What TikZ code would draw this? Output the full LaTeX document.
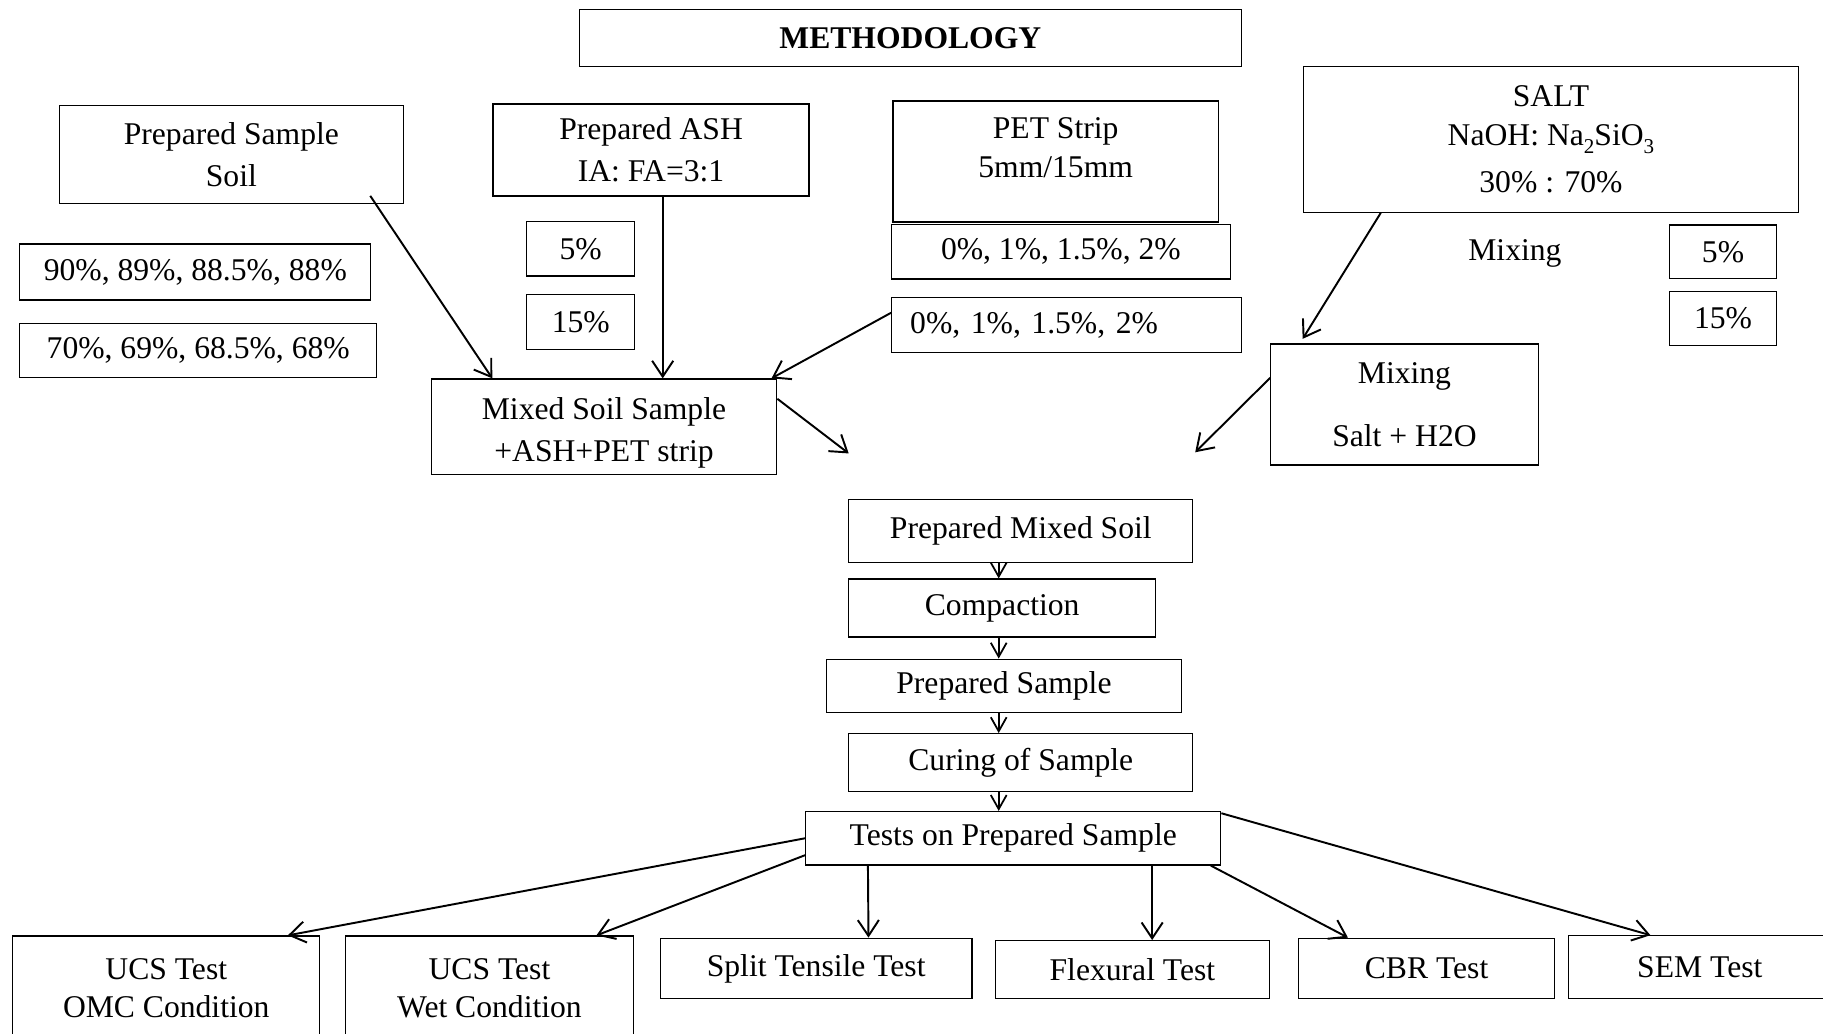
\documentclass[tikz,border=0pt]{standalone}
\usepackage{fontspec}
\setmainfont{Liberation Serif}
\usepackage{tikz}
\usetikzlibrary{arrows.meta, positioning, calc}
\newcommand{\boxfont}{\fontsize{18}{22}\selectfont}
\newcommand{\lowsub}[1]{\raisebox{-4.5pt}{\fontsize{12}{12}\selectfont #1}}
\tikzset{
    box/.style={rectangle, draw, line width=0.7pt, align=center, inner sep=2pt, font=\boxfont},
    plain/.style={align=center, inner sep=2pt, font=\boxfont},
    link/.style={draw, -{Straight Barb[length=9pt,width=12pt]}, line width=1.1pt},
    step link/.style={draw, -{Straight Barb[length=8pt,width=9pt]}, line width=1pt}
}
\begin{document}
\begin{tikzpicture}[x=0.02325cm, y=-0.02325cm]
    \clip (0,0) rectangle (1568,889);
    % Title
    \node [box, minimum width=13.25cm, minimum height=1.14cm, font=\boxfont\bfseries] (method) at (783,32.5) {METHODOLOGY};

    % Inputs
    \node [box, minimum width=6.88cm, minimum height=1.95cm] (soil) at (199,133) {Prepared Sample\\[2pt]Soil};
    \node [box, minimum width=6.32cm, minimum height=1.84cm] (ash) at (560,129) {Prepared ASH\\[2pt]IA: FA=3:1};
    \node [box, minimum width=6.51cm, minimum height=2.42cm] (pet) at (908,139) {PET Strip\\5mm/15mm\\[-6pt]\mbox{}};
    \node [box, minimum width=9.90cm, minimum height=2.91cm] (salt) at (1334,120) {SALT\\NaOH: Na\lowsub{2}SiO\lowsub{3}\\[5pt]30\% : 70\%};

    % Percentages
    \node [box, minimum width=7.02cm, minimum height=1.12cm] (soilA) at (168,234) {90\%, 89\%, 88.5\%, 88\%};
    \node [box, minimum width=7.14cm, minimum height=1.09cm] (soilB) at (170.5,301.5) {70\%, 69\%, 68.5\%, 68\%};
    \node [box, minimum width=2.16cm, minimum height=1.09cm] (ashA) at (499.5,214) {5\%};
    \node [box, minimum width=2.16cm, minimum height=1.09cm] (ashB) at (499.5,277) {15\%};
    \node [box, minimum width=6.77cm, minimum height=1.09cm] (petA) at (912.5,216.5) {0\%, 1\%, 1.5\%, 2\%};
    \node [box, text width=6.26cm, inner xsep=0.37cm, align=left, minimum height=1.09cm] (petB) at (917.5,279.5) {0\%, 1\%, 1.5\%, 2\%};
    \node [plain] (mixlabel) at (1303,218) {Mixing};
    \node [box, minimum width=2.14cm, minimum height=1.07cm] (saltA) at (1482,216.5) {5\%};
    \node [box, minimum width=2.14cm, minimum height=1.07cm] (saltB) at (1482,274) {15\%};

    % Mixing
    \node [box, minimum width=5.35cm, minimum height=2.42cm] (water) at (1208,348) {Mixing\\[14pt]Salt + H2O};
    \node [box, minimum width=6.91cm, minimum height=1.91cm] (mixed) at (519.5,367) {\rule{0pt}{20pt}Mixed Soil Sample\\[2pt]+ASH+PET strip};
    \coordinate (mixend) at (730,390);
    \coordinate (waterend) at (1028,389);

    % Main chain
    \node [box, minimum width=6.88cm, minimum height=1.26cm] (pms) at (878,457) {Prepared Mixed Soil};
    \node [box, minimum width=6.14cm, minimum height=1.16cm] (comp) at (862,523) {Compaction};
    \node [box, minimum width=7.09cm, minimum height=1.07cm] (prep) at (863.5,590) {Prepared Sample};
    \node [box, minimum width=6.88cm, minimum height=1.16cm] (cure) at (878,656) {Curing of Sample};
    \node [box, minimum width=8.30cm, minimum height=1.07cm] (tests) at (871.5,721) {Tests on Prepared Sample};
    \coordinate (col) at (859,0);

    % Tests
    \node [box, minimum width=6.14cm, minimum height=2.09cm] (ucs1) at (143,850) {UCS Test\\OMC Condition};
    \node [box, minimum width=5.77cm, minimum height=2.09cm] (ucs2) at (421,850) {UCS Test\\Wet Condition};
    \node [box, minimum width=6.23cm, minimum height=1.21cm] (split) at (702,833) {Split Tensile Test};
    \node [box, minimum width=5.49cm, minimum height=1.16cm] (flex) at (974,834) {Flexural Test};
    \node [box, minimum width=5.12cm, minimum height=1.21cm] (cbr) at (1227,833) {CBR Test};
    \node [box, minimum width=5.25cm, minimum height=1.26cm] (sem) at (1462,832) {SEM Test};

    % Paths into mixed sample
    \path [link] ($(soil.south east)+(-29,-7)$) -- ($(mixed.north west)+(53,0)$);
    \path [link] ($(ash.south)+(10,0)$) -- ($(mixed.north)+(50.5,0)$);
    \path [link] ($(petB.west)+(0,-10.5)$) -- ($(mixed.north east)+(-5,0)$);
    \path [link] ($(mixed.east)+(0,-24)$) -- (mixend);
    \path [link] ($(salt.south west)+(67,0)$) -- ($(water.north west)+(28,-4)$);
    \path [link] ($(water.west)+(0,-23)$) -- (waterend);

    % Chain
    \path [step link] (pms.south -| col) -- (comp.north -| col);
    \path [step link] (comp.south -| col) -- (prep.north -| col);
    \path [step link] (prep.south -| col) -- (cure.north -| col);
    \path [step link] (cure.south -| col) -- (tests.north -| col);

    % Tests
    \path [link] (tests.west) -- ($(ucs1.north east)+(-28,0)$);
    \path [link] ($(tests.south west)+(0,-9)$) -- ($(ucs2.north)+(92,0)$);
    \path [link] ($(tests.south west)+(54,0)$) -- ($(split.north)+(45,0)$);
    \path [link] ($(tests.south)+(119.5,0)$) -- ($(flex.north)+(17,0)$);
    \path [link] ($(tests.south east)+(-9,0)$) -- ($(cbr.north west)+(43,0)$);
    \path [link] ($(tests.north east)+(0,2)$) -- ($(sem.north west)+(71,0)$);
\end{tikzpicture}
\end{document}
